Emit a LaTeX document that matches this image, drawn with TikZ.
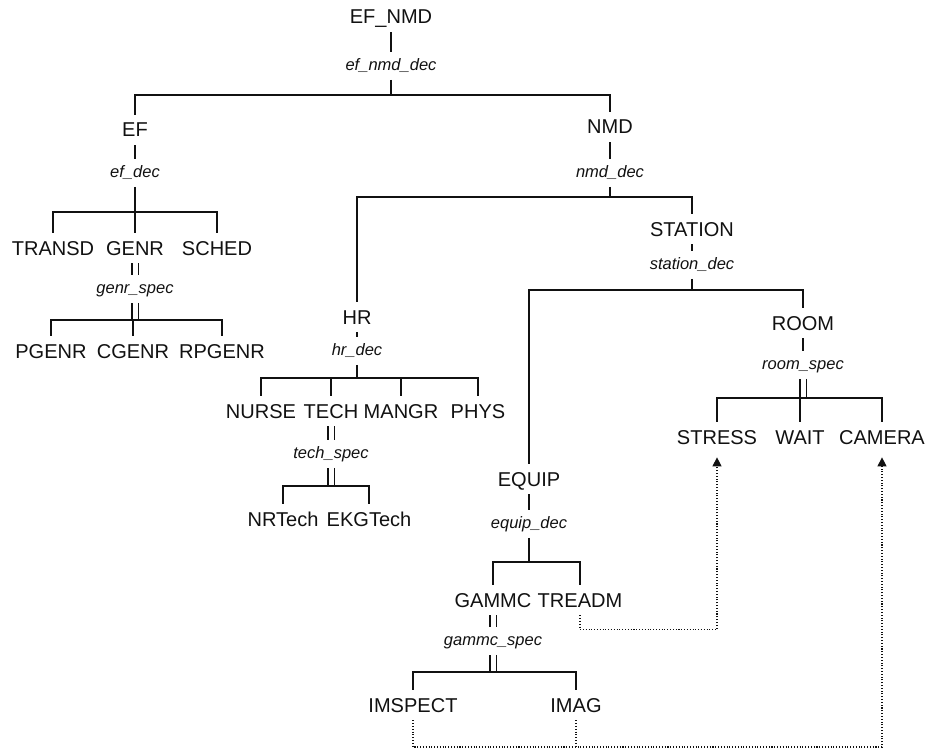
\documentclass[tikz,border=0pt]{standalone}
\usepackage{fontspec}
\setmainfont{Liberation Sans}
\usetikzlibrary{arrows.meta, positioning, calc}
\definecolor{inkA}{HTML}{111111}

\begin{document}
\begin{tikzpicture}[
  x=0.02cm, y=-0.02cm,
  entity/.style={
    font=\fontsize{11.4}{13}\selectfont, text=inkA,
    text height=0.28cm, text depth=0pt,
    inner xsep=1pt, inner ysep=0.16cm
  },
  aspect/.style={
    font=\fontsize{9.4}{11}\selectfont\itshape, text=inkA,
    text height=0.24cm, text depth=0.06cm,
    inner xsep=1pt, inner ysep=0.12cm
  },
  tree/.style={draw=inkA, line width=0.8pt},
  spec/.style={draw=inkA, line width=0.8pt, double=white, double distance=0.1cm},
  reflink/.style={draw=inkA, line width=0.6pt, densely dotted},
  refarr/.style={reflink, shorten >=0.1cm, -{Triangle[width=0.18cm, length=0.18cm]}},
]
\useasboundingbox (0,0) rectangle (925,750);

%% ═══ ROOT ═══
\node[entity] (efnmd) at (391,17) {EF\_NMD};
\node[aspect] (efnmddec) at (391,66) {ef\_nmd\_dec};
\coordinate (befnmd) at (391,95);
\draw[tree] (efnmd.south) -- (efnmddec.north);
\draw[tree] (efnmddec.south) -- (befnmd);

%% ═══ EF ═══
\node[entity] (ef) at (135,130) {EF};
\node[aspect] (efdec) at (135,173) {ef\_dec};
\coordinate (bef) at (135,212);
\draw[tree] (ef.north) |- (befnmd);
\draw[tree] (ef.south) -- (efdec.north);
\draw[tree] (efdec.south) -- (bef);

\node[entity] (transd) at (53,248) {TRANSD};
\node[entity] (genr) at (135,248) {GENR};
\node[entity] (sched) at (217,248) {SCHED};
\draw[tree] (transd.north) |- (bef) -| (sched.north);
\draw[tree] (bef) -- (genr.north);

\node[aspect] (genrspec) at (135,289) {genr\_spec};
\coordinate (bgenr) at (135,320);
\draw[spec] (genr.south) -- (genrspec.north);
\draw[spec] (genrspec.south) -- (bgenr);

\node[entity] (pgenr) at (51,351) {PGENR};
\node[entity] (cgenr) at (133,351) {CGENR};
\node[entity] (rpgenr) at (222,351) {RPGENR};
\draw[tree] (pgenr.north) |- (bgenr) -| (rpgenr.north);
\draw[tree] (cgenr.north |- bgenr) -- (cgenr.north);

%% ═══ NMD ═══
\node[entity] (nmd) at (610,127) {NMD};
\node[aspect] (nmddec) at (610,173) {nmd\_dec};
\coordinate (bnmd) at (610,197);
\draw[tree] (befnmd) -| (nmd.north);
\draw[tree] (nmd.south) -- (nmddec.north);
\draw[tree] (nmddec.south) -- (bnmd);

%% ═══ HR ═══
\node[entity] (hr) at (357,317) {HR};
\node[aspect] (hrdec) at (357,351) {hr\_dec};
\coordinate (bhr) at (357,378);
\draw[tree] (hr.north) |- (bnmd);
\draw[tree] (hr.south) -- (hrdec.north);
\draw[tree] (hrdec.south) -- (bhr);

\node[entity] (nurse) at (261,411) {NURSE};
\node[entity] (tech) at (331,411) {TECH};
\node[entity] (mangr) at (401,411) {MANGR};
\node[entity] (phys) at (478,411) {PHYS};
\draw[tree] (nurse.north) |- (bhr) -| (phys.north);
\draw[tree] (tech.north |- bhr) -- (tech.north);
\draw[tree] (mangr.north |- bhr) -- (mangr.north);

\node[aspect] (techspec) at (331,454) {tech\_spec};
\coordinate (btech) at (331,486);
\draw[spec] (tech.south) -- (techspec.north);
\draw[spec] (techspec.south) -- (btech);

\node[entity] (nrtech) at (283,519) {NRTech};
\node[entity] (ekgtech) at (369,519) {EKGTech};
\draw[tree] (nrtech.north) |- (btech) -| (ekgtech.north);

%% ═══ STATION ═══
\node[entity] (station) at (692,229) {STATION};
\node[aspect] (stationdec) at (692,265) {station\_dec};
\coordinate (bstation) at (692,290);
\draw[tree] (bnmd) -| (station.north);
\draw[tree] (station.south) -- (stationdec.north);
\draw[tree] (stationdec.south) -- (bstation);

%% ═══ ROOM ═══
\node[entity] (room) at (803,323) {ROOM};
\node[aspect] (roomspec) at (803,365) {room\_spec};
\coordinate (broom) at (803,398);
\draw[tree] (bstation) -| (room.north);
\draw[tree] (room.south) -- (roomspec.north);
\draw[spec] (roomspec.south) -- (broom);

\node[entity] (stress) at (717,437) {STRESS};
\node[entity] (wait) at (800,437) {WAIT};
\node[entity] (camera) at (882,437) {CAMERA};
\draw[tree] (stress.north) |- (broom) -| (camera.north);
\draw[tree] (wait.north |- broom) -- (wait.north);

%% ═══ EQUIP ═══
\node[entity] (equip) at (529,479) {EQUIP};
\node[aspect] (equipdec) at (529,524) {equip\_dec};
\coordinate (bequip) at (529,562);
\draw[tree] (equip.north) |- (bstation);
\draw[tree] (equip.south) -- (equipdec.north);
\draw[tree] (equipdec.south) -- (bequip);

\node[entity] (gammc) at (493,600) {GAMMC};
\node[entity] (treadm) at (580,600) {TREADM};
\draw[tree] (gammc.north) |- (bequip) -| (treadm.north);

\node[aspect] (gammcspec) at (493,641) {gammc\_spec};
\coordinate (bgammc) at (493,672);
\draw[spec] (gammc.south) -- (gammcspec.north);
\draw[spec] (gammcspec.south) -- (bgammc);

\node[entity] (imspect) at (413,705) {IMSPECT};
\node[entity] (imag) at (576,705) {IMAG};
\draw[tree] (imspect.north) |- (bgammc) -| (imag.north);

%% ═══ REFERENCES ═══
\draw[refarr] (treadm.south) -- ++(0,14) -| (stress.south);
\coordinate (blink) at (413,747);
\draw[refarr] (imspect.south) -- (blink) -| (camera.south);
\draw[reflink] (imag.south) -- (imag.south |- blink);

\end{tikzpicture}
\end{document}
